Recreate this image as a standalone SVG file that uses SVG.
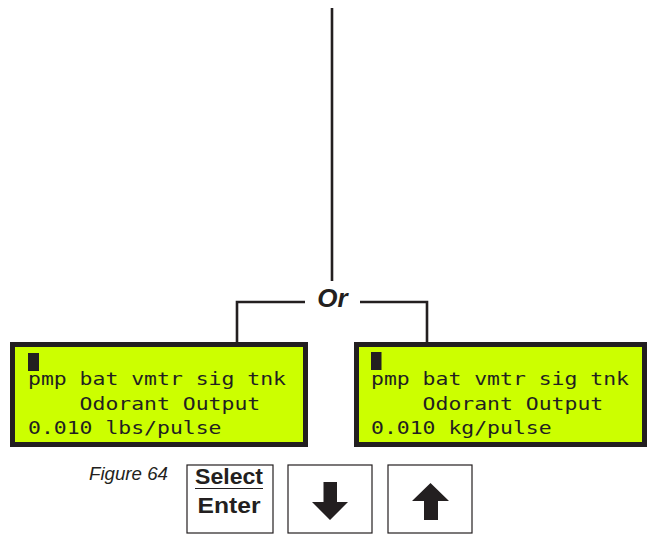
<svg xmlns="http://www.w3.org/2000/svg" width="647" height="537" viewBox="0 0 647 537">
<style>
.ln{fill:none;stroke:#231f20;stroke-width:2.6}
.lcd{fill:#ccff00;stroke:#231f20;stroke-width:5}
.lt{font-family:"DejaVu Sans Mono",monospace;font-size:18px;fill:#231f20}
.btn{fill:#fff;stroke:#231f20;stroke-width:1.2}
.bt{font-family:"Liberation Sans",Arial,sans-serif;font-weight:bold;font-size:22px;fill:#231f20}
.ar{fill:#231f20}
</style>
<rect width="647" height="537" fill="#fff"/>
<g id="connectors">
<line class="ln" x1="332" y1="8" x2="332" y2="281"/>
<polyline class="ln" points="305,302 237,302 237,343"/>
<polyline class="ln" points="360,302 427,302 427,343"/>
</g>
<g id="or">
<text x="332.5" y="307" text-anchor="middle" font-family="Liberation Sans, Arial, sans-serif" font-weight="bold" font-style="italic" font-size="26" fill="#231f20">Or</text>
</g>
<g id="lcd-left">
<rect class="lcd" x="12.5" y="344.5" width="293" height="100"/>
<rect class="ar" x="28" y="353" width="11" height="18"/>
<text class="lt" x="28" y="385" textLength="258" lengthAdjust="spacingAndGlyphs" xml:space="preserve">pmp bat vmtr sig tnk</text>
<text class="lt" x="28" y="410" textLength="232.2" lengthAdjust="spacingAndGlyphs" xml:space="preserve">    Odorant Output</text>
<text class="lt" x="28" y="434" textLength="193.5" lengthAdjust="spacingAndGlyphs" xml:space="preserve">0.010 lbs/pulse</text>
</g>
<g id="lcd-right">
<rect class="lcd" x="356.5" y="344.5" width="288" height="100"/>
<rect class="ar" x="371" y="352" width="10.5" height="18"/>
<text class="lt" x="371" y="385" textLength="258" lengthAdjust="spacingAndGlyphs" xml:space="preserve">pmp bat vmtr sig tnk</text>
<text class="lt" x="371" y="410" textLength="232.2" lengthAdjust="spacingAndGlyphs" xml:space="preserve">    Odorant Output</text>
<text class="lt" x="371" y="434" textLength="180.6" lengthAdjust="spacingAndGlyphs" xml:space="preserve">0.010 kg/pulse</text>
</g>
<g id="figure-label">
<text x="89" y="480" font-family="Liberation Sans, Arial, sans-serif" font-style="italic" font-size="17.5" fill="#231f20" textLength="79" lengthAdjust="spacingAndGlyphs">Figure 64</text>
</g>
<g id="btn-select">
<rect class="btn" x="187" y="465" width="86" height="68"/>
<text class="bt" x="229" y="484" text-anchor="middle" textLength="68" lengthAdjust="spacingAndGlyphs">Select</text>
<line x1="195" y1="488.5" x2="263" y2="488.5" stroke="#231f20" stroke-width="1.2"/>
<text class="bt" x="229" y="513" text-anchor="middle" textLength="63" lengthAdjust="spacingAndGlyphs">Enter</text>
</g>
<g id="btn-down">
<rect class="btn" x="288" y="465" width="84" height="68"/>
<polygon class="ar" points="323.5,482 337,482 337,502 348,502 330,520 312,502 323.5,502"/>
</g>
<g id="btn-up">
<rect class="btn" x="388" y="465" width="84" height="68"/>
<polygon class="ar" points="430.5,483 449,501 438,501 438,520 424,520 424,501 412,501"/>
</g>
</svg>
